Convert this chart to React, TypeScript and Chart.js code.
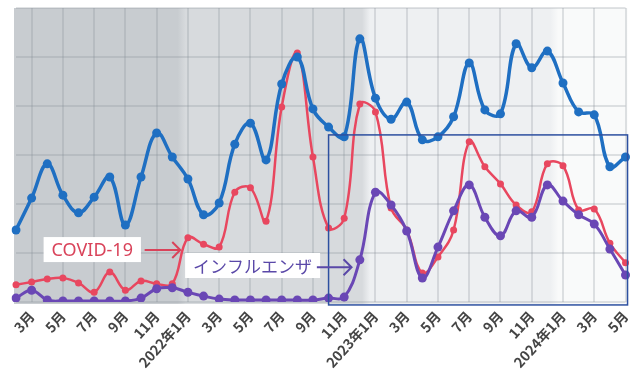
import React, { useEffect, useRef } from 'react';
import { Chart, registerables } from 'chart.js';

Chart.register(...registerables);

// 2021年2月 – 2024年5月 (monthly)
const months = [
  '2021年2月', '2021年3月', '2021年4月', '2021年5月', '2021年6月', '2021年7月', '2021年8月', '2021年9月', '2021年10月', '2021年11月', '2021年12月',
  '2022年1月', '2022年2月', '2022年3月', '2022年4月', '2022年5月', '2022年6月', '2022年7月', '2022年8月', '2022年9月', '2022年10月', '2022年11月', '2022年12月',
  '2023年1月', '2023年2月', '2023年3月', '2023年4月', '2023年5月', '2023年6月', '2023年7月', '2023年8月', '2023年9月', '2023年10月', '2023年11月', '2023年12月',
  '2024年1月', '2024年2月', '2024年3月', '2024年4月', '2024年5月',
];

// labels shown on every other month (odd indices)
const tickLabels = [
  '3月', '5月', '7月', '9月', '11月', '2022年1月', '3月', '5月', '7月', '9月',
  '11月', '2023年1月', '3月', '5月', '7月', '9月', '11月', '2024年1月', '3月', '5月',
];

const blueValues = [
  1.47, 2.12, 2.82, 2.18, 1.82, 2.14, 2.55, 1.57, 2.55, 3.45,
  2.96, 2.51, 1.78, 2.02, 3.22, 3.65, 2.90, 4.45, 5.00, 3.94,
  3.57, 3.37, 5.37, 4.16, 3.73, 4.08, 3.31, 3.37, 3.78, 4.88,
  3.92, 3.84, 5.27, 4.78, 5.12, 4.47, 3.88, 3.82, 2.76, 2.96,
];

const covidValues = [
  0.35, 0.41, 0.47, 0.49, 0.39, 0.20, 0.61, 0.24, 0.43, 0.37,
  0.37, 1.31, 1.18, 1.12, 2.24, 2.33, 1.65, 3.98, 5.08, 2.96,
  1.51, 1.71, 4.04, 3.88, 1.92, 1.47, 0.59, 0.92, 1.47, 3.27,
  2.76, 2.41, 1.98, 1.84, 2.82, 2.78, 1.88, 1.90, 1.20, 0.80,
];

const fluValues = [
  0.08, 0.24, 0.04, 0.02, 0.02, 0.02, 0.02, 0.02, 0.08, 0.27,
  0.29, 0.20, 0.12, 0.06, 0.04, 0.04, 0.04, 0.04, 0.04, 0.04,
  0.08, 0.10, 0.86, 2.24, 1.98, 1.45, 0.49, 1.12, 1.86, 2.39,
  1.73, 1.35, 1.86, 1.73, 2.39, 2.06, 1.78, 1.59, 1.08, 0.55,
];

// background shading bands (edges in month-index units)
const bandEdges = [10.6, 22.4, 34.45];
const bandColors = ['#c8ccd0', '#d7dadd', '#eef0f2', '#f9fafa'];

// highlighted range box (month index / value units)
const boxRange = { xMin: 20, xMax: 39.13, yMin: -0.06, yMax: 3.41 };

const BLUE = '#1f6fc2';
const RED = '#e8475f';
const PURPLE = '#6a47b5';

const annotations = [
  { text: 'COVID-19', color: '#d9435a', cx: 4.88, cy: 1.07, arrowFrom: 8.23, arrowTo: 10.51, arrowY: 1.06, font: '18px "Noto Sans", "Noto Sans CJK JP", sans-serif' },
  { text: 'インフルエンザ', color: '#5a48a8', cx: 15.14, cy: 0.745, arrowFrom: 19.25, arrowTo: 21.47, arrowY: 0.71, font: '17px "Noto Sans CJK JP", sans-serif' },
];

const bgPlugin = {
  id: 'bgBands',
  beforeDraw(chart: any) {
    const { ctx, chartArea: a, scales } = chart;
    const x = scales.x;
    const left = a.left - 2;
    const right = a.right + 2;
    const top = a.top;
    const bottom = a.bottom + 2;
    const edges = [left, ...bandEdges.map((v) => x.getPixelForValue(v)), right];
    const g = ctx.createLinearGradient(left, 0, right, 0);
    const W = right - left;
    const soft = 4 / W;
    for (let k = 0; k < bandColors.length; k++) {
      const s = (edges[k] - left) / W;
      const e = (edges[k + 1] - left) / W;
      g.addColorStop(Math.min(1, k === 0 ? 0 : s + soft), bandColors[k]);
      g.addColorStop(Math.max(0, k === bandColors.length - 1 ? 1 : e - soft), bandColors[k]);
    }
    ctx.save();
    ctx.fillStyle = g;
    ctx.fillRect(left, top, W, bottom - top);
    ctx.restore();
  },
};

const overlayPlugin = {
  id: 'overlay',
  afterDraw(chart: any) {
    const { ctx, scales } = chart;
    const x = scales.x;
    const y = scales.y;
    ctx.save();
    // range box
    const bx0 = x.getPixelForValue(boxRange.xMin);
    const bx1 = x.getPixelForValue(boxRange.xMax);
    const by0 = y.getPixelForValue(boxRange.yMax);
    const by1 = y.getPixelForValue(boxRange.yMin);
    ctx.strokeStyle = '#2d50a0';
    ctx.lineWidth = 1.5;
    ctx.strokeRect(bx0, by0, bx1 - bx0, by1 - by0);

    for (const an of annotations) {
      ctx.font = an.font;
      const tw = ctx.measureText(an.text).width;
      const cx = x.getPixelForValue(an.cx);
      const cy = y.getPixelForValue(an.cy);
      const bw = tw + 16;
      const bh = 25;
      ctx.fillStyle = '#ffffff';
      ctx.fillRect(cx - bw / 2, cy - bh / 2, bw, bh);
      ctx.fillStyle = an.color;
      ctx.textAlign = 'center';
      ctx.textBaseline = 'middle';
      ctx.fillText(an.text, cx, cy + 1);
      // arrow
      const ax0 = x.getPixelForValue(an.arrowFrom);
      const ax1 = x.getPixelForValue(an.arrowTo);
      const ay = y.getPixelForValue(an.arrowY);
      ctx.strokeStyle = an.color;
      ctx.lineWidth = 2;
      ctx.beginPath();
      ctx.moveTo(ax0, ay);
      ctx.lineTo(ax1, ay);
      ctx.moveTo(ax1 - 8, ay - 8);
      ctx.lineTo(ax1, ay);
      ctx.lineTo(ax1 - 8, ay + 8);
      ctx.stroke();
    }
    ctx.restore();
  },
};

export default function App() {
  const ref = useRef<HTMLCanvasElement | null>(null);

  useEffect(() => {
    if (!ref.current) return;
    const gridColor = 'rgba(130,136,145,0.24)';
    const chart = new Chart(ref.current, {
      type: 'line',
      data: {
        labels: months,
        datasets: [
          {
            label: '総数',
            data: blueValues,
            borderColor: BLUE,
            backgroundColor: BLUE,
            borderWidth: 3.5,
            pointRadius: 4.5,
            pointBorderWidth: 0,
            tension: 0.4,
            order: 1,
          },
          {
            label: 'インフルエンザ',
            data: fluValues,
            borderColor: PURPLE,
            backgroundColor: PURPLE,
            borderWidth: 3,
            pointRadius: 4.5,
            pointBorderWidth: 0,
            tension: 0.4,
            order: 2,
          },
          {
            label: 'COVID-19',
            data: covidValues,
            borderColor: RED,
            backgroundColor: RED,
            borderWidth: 2.5,
            pointRadius: 3.5,
            pointBorderWidth: 0,
            tension: 0.4,
            order: 3,
          },
        ],
      },
      options: {
        animation: false,
        responsive: false,
        devicePixelRatio: 1,
        layout: { padding: { left: 16, right: 12, top: 8, bottom: 0 } },
        plugins: {
          legend: { display: false },
          tooltip: { enabled: false },
        },
        scales: {
          x: {
            grid: {
              drawTicks: false,
              lineWidth: 2,
              color: (c: any) => (c.index % 2 === 1 ? gridColor : 'rgba(0,0,0,0)'),
            },
            border: { display: false },
            ticks: {
              autoSkip: false,
              maxRotation: 48,
              minRotation: 48,
              padding: 6,
              color: '#454545',
              font: { family: '"Noto Sans CJK JP", sans-serif', size: 14, weight: 'bold' },
              callback: (_v: any, i: number) => (i % 2 === 1 ? tickLabels[(i - 1) / 2] : ''),
            },
            afterFit: (s: any) => {
              s.height = 74;
            },
          },
          y: {
            min: 0,
            max: 6,
            grid: { drawTicks: false, lineWidth: 2, color: gridColor },
            border: { display: false },
            ticks: { display: false, stepSize: 1 },
            afterFit: (s: any) => {
              s.width = 0;
            },
          },
        },
      },
      plugins: [bgPlugin, overlayPlugin],
    });
    return () => chart.destroy();
  }, []);

  return (
    <div style={{ position: 'fixed', left: 0, top: 0, width: 644, height: 376, background: '#fff' }}>
      <canvas ref={ref} width={644} height={376} style={{ width: 644, height: 376, display: 'block' }} />
    </div>
  );
}
